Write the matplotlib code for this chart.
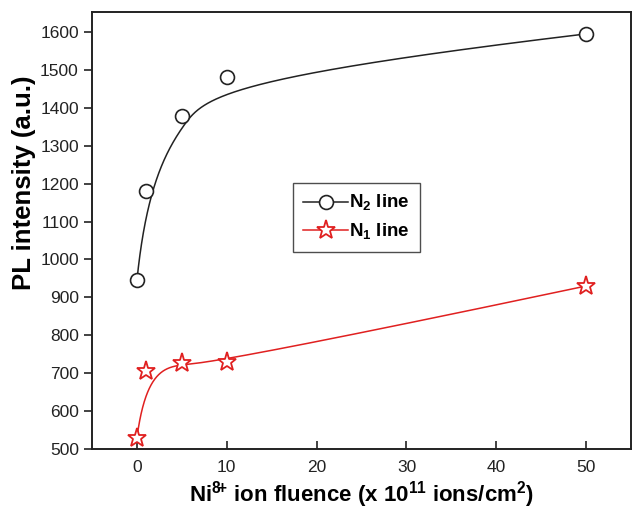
import numpy as np
import matplotlib
matplotlib.use('Agg')
import matplotlib.pyplot as plt

plt.rcParams['font.family'] = ['Liberation Sans', 'DejaVu Sans']
plt.rcParams['mathtext.fontset'] = 'custom'
plt.rcParams['mathtext.rm'] = 'Liberation Sans'
plt.rcParams['mathtext.bf'] = 'Liberation Sans:bold'

# 数据
fluence = [0, 1, 5, 10, 50]
n2_line = [945, 1180, 1378, 1481, 1595]
n1_line = [530, 705, 727, 730, 930]


def bspline(x, y, k=3, n=600):
    """夹紧三次 B 样条，数据点作为控制点（类似 Origin 的 B-Spline 连线）"""
    P = np.column_stack([x, y]).astype(float)
    m = len(P)
    inner = np.linspace(0, 1, m - k + 1)[1:-1]
    t = np.concatenate([np.zeros(k + 1), inner, np.ones(k + 1)])
    u = np.linspace(0, 1, n)
    u[-1] -= 1e-9
    N = np.zeros((n, len(t) - 1))
    for i in range(len(t) - 1):
        N[:, i] = (t[i] <= u) & (u < t[i + 1])
    for d in range(1, k + 1):
        Nn = np.zeros((n, len(t) - 1 - d))
        for i in range(len(t) - 1 - d):
            a = (u - t[i]) / (t[i + d] - t[i]) if t[i + d] > t[i] else 0
            b = (t[i + d + 1] - u) / (t[i + d + 1] - t[i + 1]) if t[i + d + 1] > t[i + 1] else 0
            Nn[:, i] = a * N[:, i] + b * N[:, i + 1]
        N = Nn
    C = N @ P
    return C[:, 0], C[:, 1]


x2, y2 = bspline(fluence, n2_line)
x1, y1 = bspline(fluence, n1_line)

fig = plt.figure(figsize=(6.32, 5.13), dpi=100)
ax = fig.add_axes([0.1456, 0.1248, 0.853, 0.852])

black = '#222222'
red = '#e02020'
ax.plot(x2, y2, color=black, lw=1.1)
ax.plot(x1, y1, color=red, lw=1.1)
ax.plot(fluence, n2_line, 'o', ms=10, mfc='white', mec=black, mew=1.2)
ax.plot(fluence, n1_line, '*', ms=14, mfc='white', mec=red, mew=1.3)

# 图例用的代理
h2, = ax.plot([], [], '-o', color=black, lw=1.1, ms=10, mfc='white', mec=black, mew=1.2)
h1, = ax.plot([], [], '-*', color=red, lw=1.1, ms=14, mfc='white', mec=red, mew=1.3)
leg = ax.legend([h2, h1], [r'N$_{\mathbf{2}}$ line', r'N$_{\mathbf{1}}$ line'],
                loc='upper left', bbox_to_anchor=(0.373, 0.609), borderaxespad=0,
                prop={'weight': 'bold', 'size': 13.5}, frameon=True, fancybox=False,
                edgecolor=black, handlelength=2.4, handletextpad=0.05,
                borderpad=0.55, labelspacing=0.45)
leg.get_frame().set_linewidth(1.0)

ax.set_xlim(-5, 55)
ax.set_ylim(500, 1653)
ax.set_xticks([0, 10, 20, 30, 40, 50])
ax.set_yticks(np.arange(500, 1601, 100))
ax.tick_params(axis='x', direction='in', length=6, width=1.2, labelsize=12.5, pad=8, colors=black)
ax.tick_params(axis='y', direction='out', length=6, width=1.2, labelsize=12.5, colors=black)
for s in ax.spines.values():
    s.set_linewidth(1.4)
    s.set_color(black)

ax.set_xlabel(r'Ni$^{\mathbf{8}\!\mathbf{+}}$ ion fluence (x 10$^{\mathbf{11}}$ ions/cm$^{\mathbf{2}}$)',
              fontsize=16, fontweight='bold', labelpad=3)
ax.set_ylabel('PL intensity (a.u.)', fontsize=18.5, fontweight='bold')
ax.yaxis.set_label_coords(-0.104, 0.61)

fig.savefig('out.png', dpi=100)
